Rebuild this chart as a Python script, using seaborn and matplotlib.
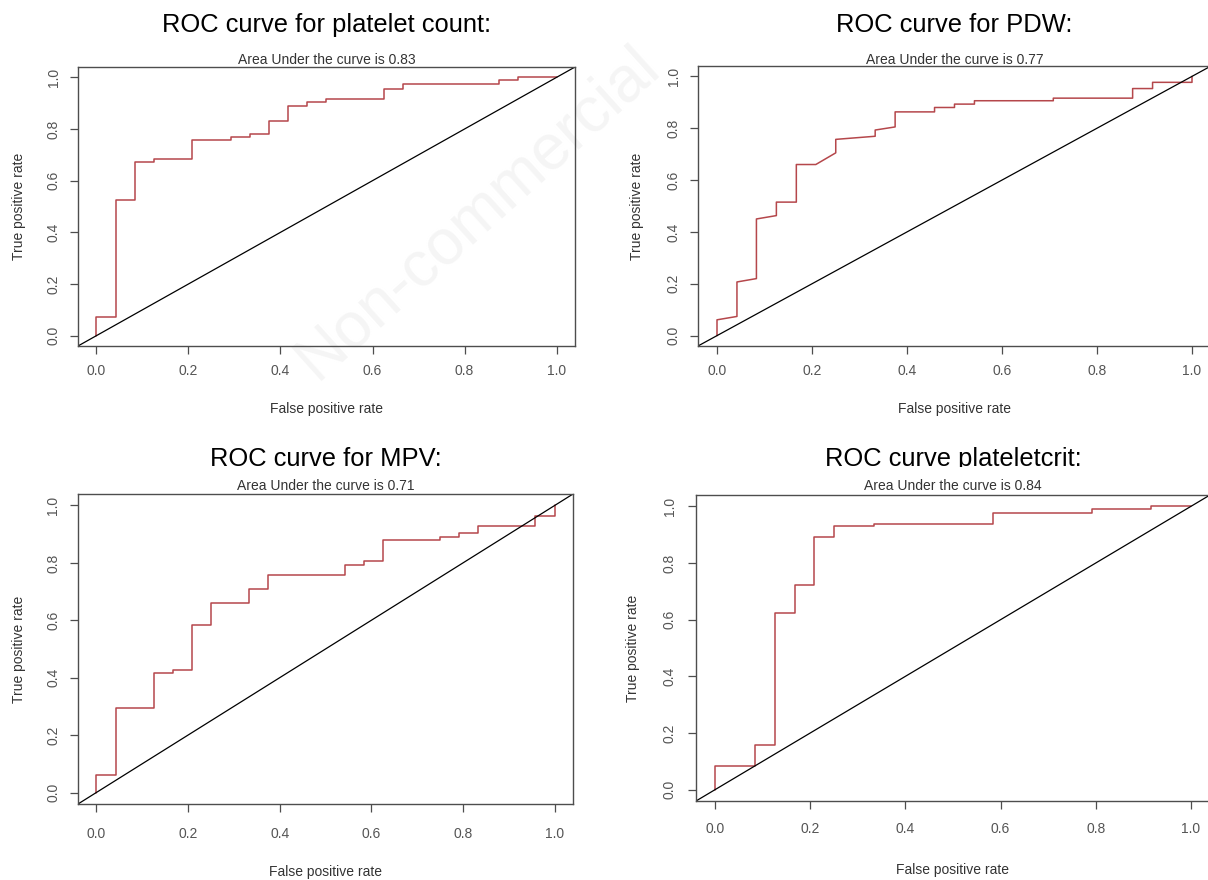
import matplotlib
matplotlib.use("Agg")
import matplotlib.pyplot as plt
from matplotlib.transforms import Bbox
import seaborn as sns

# ROC vertices (false positive rate, true positive rate)
count_fpr = [0, 0, .042, .042, .083, .083, .125, .125, .208, .208, .292, .292, .333, .333,
             .375, .375, .417, .417, .458, .458, .5, .5, .625, .625, .667, .667, .875, .875,
             .917, .917, 1.0]
count_tpr = [0, .074, .074, .525, .525, .671, .671, .683, .683, .758, .758, .768, .768, .781,
             .781, .832, .832, .890, .890, .904, .904, .916, .916, .955, .955, .975, .975, .991,
             .991, 1.0, 1.0]

pdw_fpr = [0, 0, .042, .042, .083, .083, .125, .125, .167, .167, .208, .250, .250, .333, .333,
           .375, .375, .458, .458, .5, .5, .542, .542, .708, .708, .875, .875, .917, .917,
           1.0, 1.0]
pdw_tpr = [0, .061, .074, .207, .220, .450, .463, .515, .515, .660, .660, .705, .757, .769, .793,
           .805, .863, .863, .880, .880, .893, .893, .906, .906, .916, .916, .953, .953, .977,
           .977, 1.0]

mpv_fpr = [0, 0, .042, .042, .125, .125, .167, .167, .208, .208, .25, .25, .333, .333, .375,
           .375, .542, .542, .583, .583, .625, .625, .75, .75, .792, .792, .833, .833, .958,
           .958, 1.0, 1.0]
mpv_tpr = [0, .062, .062, .294, .294, .416, .416, .428, .428, .585, .585, .660, .660, .709, .709,
           .757, .757, .794, .794, .808, .808, .881, .881, .891, .891, .905, .905, .930, .930,
           .965, .965, 1.0]

pct_fpr = [0, 0, .083, .083, .125, .125, .167, .167, .208, .208, .25, .25, .333, .333, .583,
           .583, .792, .792, .917, .917, 1.0]
pct_tpr = [0, .085, .085, .159, .159, .624, .624, .724, .724, .892, .892, .929, .929, .939, .939,
           .976, .976, .991, .991, 1.0, 1.0]

titles = ["ROC curve for platelet count:", "ROC curve for PDW:",
          "ROC curve for MPV:", "ROC curve plateletcrit:"]
auc_values = [0.83, 0.77, 0.71, 0.84]
tick_values = [0.0, 0.2, 0.4, 0.6, 0.8, 1.0]

curves = [(count_fpr, count_tpr), (pdw_fpr, pdw_tpr), (mpv_fpr, mpv_tpr), (pct_fpr, pct_tpr)]

W, H = 1208, 880
# pixel layout of each panel: box (left, top, right, bottom), title/sub baselines,
# x-label centre y, y-label centre x, tick pads
layout = [
    dict(box=(78, 67, 575, 346), title_y=32, sub_y=64, xlab_y=409, ylab_x=19, xpad=7.5, ypad=6.5),
    dict(box=(698, 66, 1211, 346), title_y=32, sub_y=64, xlab_y=409, ylab_x=637, xpad=7.5, ypad=6.5),
    dict(box=(78, 494, 573, 804), title_y=466, sub_y=490, xlab_y=872, ylab_x=19, xpad=10.4, ypad=7),
    dict(box=(696, 495, 1210, 801), title_y=466, sub_y=490, xlab_y=870, ylab_x=633, xpad=9.6, ypad=8),
]

sns.set_theme(style="white")
plt.rcParams["font.family"] = ["Liberation Sans", "DejaVu Sans"]

fig = plt.figure(figsize=(W / 100, H / 100), dpi=100)
fig.patch.set_facecolor("white")

# faint publisher watermark behind the panels
fig.text(478 / W, 1 - 212 / H, "Non-commercial", fontsize=46, color="#f5f5f5",
         rotation=42, ha="center", va="center", zorder=-5)

red = "#b5474b"
axis_grey = "#4d4d4d"

for i, ((fpr, tpr), lay) in enumerate(zip(curves, layout)):
    l, t, r, b = lay["box"]
    ax = fig.add_axes([l / W, 1 - b / H, (r - l) / W, (b - t) / H])
    ax.patch.set_alpha(0)

    sns.lineplot(x=fpr, y=tpr, sort=False, estimator=None, color=red, linewidth=1.1, ax=ax)
    ax.axline((0, 0), slope=1, color="black", linewidth=0.9)

    ax.set_xlim(-0.04, 1.04)
    ax.set_ylim(-0.04, 1.04)
    ax.set_xticks(tick_values)
    ax.set_yticks(tick_values)
    ax.set_xticklabels([f"{v:.1f}" for v in tick_values])
    ax.set_yticklabels([f"{v:.1f}" for v in tick_values], rotation=90, va="center")
    ax.tick_params(axis="both", direction="out", length=5.8, width=0.9, color=axis_grey,
                   labelsize=10, labelcolor="#555555", bottom=True, left=True)
    ax.tick_params(axis="x", pad=lay["xpad"])
    ax.tick_params(axis="y", pad=lay["ypad"])
    for sp in ax.spines.values():
        sp.set_visible(True)
        sp.set_color(axis_grey)
        sp.set_linewidth(1.0)

    ax.set_xlabel("False positive rate", fontsize=10, color="#333333")
    ax.set_ylabel("True positive rate", fontsize=10, color="#333333")
    ax.xaxis.set_label_coords(0.5, (b - lay["xlab_y"]) / (b - t))
    ax.xaxis.label.set_va("center")
    ax.yaxis.set_label_coords((lay["ylab_x"] - l) / (r - l), 0.5)
    ax.yaxis.label.set_va("center")

    cx = (l + r) / 2
    ttl = fig.text(cx / W, 1 - lay["title_y"] / H, titles[i], fontsize=18.4, color="black",
                   ha="center", va="baseline")
    if i == 3:
        # the bottom of this title is cut off in the source picture
        ttl.set_clip_box(Bbox.from_extents(0, H - lay["title_y"] - 1, W, H))
        ttl.set_clip_on(True)
    fig.text(cx / W, 1 - lay["sub_y"] / H, f"Area Under the curve is {auc_values[i]:.2f}",
             fontsize=10, color="#333333", ha="center", va="baseline")

fig.savefig("out.png", dpi=100)
